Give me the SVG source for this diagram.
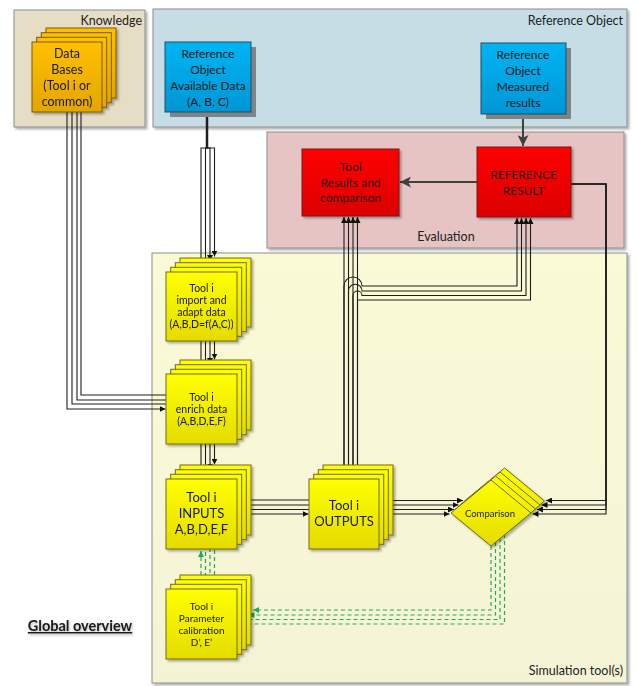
<svg xmlns="http://www.w3.org/2000/svg" width="637" height="686" viewBox="0 0 637 686">
<defs>
<linearGradient id="gy" x1="0" y1="0" x2="0" y2="1"><stop offset="0" stop-color="#ffff00"/><stop offset="1" stop-color="#e4dc00"/></linearGradient>
<linearGradient id="go" x1="0" y1="0" x2="0" y2="1"><stop offset="0" stop-color="#ffc000"/><stop offset="1" stop-color="#e3a600"/></linearGradient>
<linearGradient id="gb" x1="0" y1="0" x2="0" y2="1"><stop offset="0" stop-color="#00b4f2"/><stop offset="1" stop-color="#0096d6"/></linearGradient>
<linearGradient id="gr" x1="0" y1="0" x2="0" y2="1"><stop offset="0" stop-color="#ff0000"/><stop offset="1" stop-color="#dc0000"/></linearGradient>
<linearGradient id="gs" x1="0" y1="0" x2="0" y2="1"><stop offset="0" stop-color="#fafad6"/><stop offset="1" stop-color="#f5f3d6"/></linearGradient>
<filter id="sh" x="-10%" y="-10%" width="130%" height="130%"><feDropShadow dx="2" dy="2" stdDeviation="1" flood-color="#000" flood-opacity="0.3"/></filter>
<filter id="ts" x="-10%" y="-30%" width="130%" height="160%"><feDropShadow dx="1" dy="1.5" stdDeviation="0.8" flood-color="#000" flood-opacity="0.3"/></filter>
<marker id="a" viewBox="0 0 10 10" refX="10" refY="5" markerWidth="6" markerHeight="6" markerUnits="userSpaceOnUse" orient="auto"><path d="M0,0 L10,5 L0,10 z" fill="#111"/></marker>
<marker id="ag" viewBox="0 0 10 10" refX="10" refY="5" markerWidth="6" markerHeight="6" markerUnits="userSpaceOnUse" orient="auto"><path d="M0,0 L10,5 L0,10 z" fill="#1fae4f"/></marker>
<marker id="ab" viewBox="0 0 10 10" refX="10" refY="5" markerWidth="11" markerHeight="11" markerUnits="userSpaceOnUse" orient="auto"><path d="M0,0 L10,5 L0,10 L2.5,5 z" fill="#404040"/></marker>
</defs>
<style>
text{font-family:Lato,"Noto Sans","Liberation Sans",sans-serif;fill:#1a1a1a;text-anchor:middle}
.lbl{font-size:12.5px;fill:#222}
.cont{stroke:#8c8c8c;stroke-width:1}
.ys{fill:url(#gy);stroke:#6e6a22;stroke-width:1}
.os{fill:url(#go);stroke:#7a5a00;stroke-width:1}
.bl{fill:url(#gb);stroke:#1f4e66;stroke-width:1}
.rd{fill:url(#gr);stroke:#7a1010;stroke-width:1}
.c{fill:none;stroke:#1e1e1e;stroke-width:1.1}
.g{fill:none;stroke:#1fae4f;stroke-width:1.2;stroke-dasharray:4 3}
.thick{fill:none;stroke:#404040;stroke-width:2}
</style>

<g id="containers">
<g id="knowledge"><rect x="14" y="10" width="131" height="117" fill="#e6ddc5" class="cont" filter="url(#sh)"/><text x="142" y="25" class="lbl" style="text-anchor:end">Knowledge</text></g>
<g id="reference-object"><rect x="153" y="9" width="474" height="118" fill="#c6dde6" class="cont" filter="url(#sh)"/><text x="623" y="25" class="lbl" style="text-anchor:end">Reference Object</text></g>
<g id="evaluation"><rect x="267" y="132" width="357" height="116" fill="#e6c4c4" class="cont" filter="url(#sh)"/><text x="446" y="241" class="lbl">Evaluation</text></g>
<g id="simulation"><rect x="152" y="253" width="475" height="430" fill="url(#gs)" class="cont" filter="url(#sh)"/><text x="623" y="675" class="lbl" style="text-anchor:end">Simulation tool(s)</text></g>
</g>

<g id="connectors">
<path class="c" d="M207,112 V148 H201 V270" marker-end="url(#a)"/>
<path class="c" d="M207,112 V148 H205.5 V265.5" marker-end="url(#a)"/>
<path class="c" d="M207,112 V148 H210 V261" marker-end="url(#a)"/>
<path class="c" d="M207,112 V148 H214.5 V256.5" marker-end="url(#a)"/>
<path class="c" d="M207,112 V148" style="stroke-width:2.5"/>

<path class="c" d="M201,341 V373" marker-end="url(#a)"/>
<path class="c" d="M205.5,336 V368.5" marker-end="url(#a)"/>
<path class="c" d="M210,332 V364" marker-end="url(#a)"/>
<path class="c" d="M214.5,327 V359.5" marker-end="url(#a)"/>

<path class="c" d="M201,444 V478.5" marker-end="url(#a)"/>
<path class="c" d="M205.5,439 V474" marker-end="url(#a)"/>
<path class="c" d="M210,435 V469.5" marker-end="url(#a)"/>
<path class="c" d="M214.5,430 V464.5" marker-end="url(#a)"/>

<path class="c" d="M67,100 V409 H165.5" marker-end="url(#a)"/>
<path class="c" d="M72,100 V404 H172"/>
<path class="c" d="M77,100 V400 H177"/>
<path class="c" d="M81,100 V395 H182"/>

<path class="c" d="M237,514 H308.5" marker-end="url(#a)"/>
<path class="c" d="M241.7,509.5 H315"/>
<path class="c" d="M246.4,505 H320"/>
<path class="c" d="M251,500 H325"/>

<path class="c" d="M379,514 H449.5" marker-end="url(#a)"/>
<path class="c" d="M383.7,509.5 H454" marker-end="url(#a)"/>
<path class="c" d="M388.4,505 H458.5" marker-end="url(#a)"/>
<path class="c" d="M393,500.5 H463" marker-end="url(#a)"/>

<path class="c" d="M571,184 H606 V514 H532.5" marker-end="url(#a)"/>
<path class="c" d="M571,184 H606 V509.5 H537" marker-end="url(#a)"/>
<path class="c" d="M571,184 H606 V505 H541.5" marker-end="url(#a)"/>
<path class="c" d="M571,184 H606 V500.5 H546" marker-end="url(#a)"/>

<path class="c" d="M344,479 V217" marker-end="url(#a)"/>
<path class="c" d="M348.5,474 V217" marker-end="url(#a)"/>
<path class="c" d="M353,470 V217" marker-end="url(#a)"/>
<path class="c" d="M357.5,465 V217" marker-end="url(#a)"/>

<path class="c" d="M344,479 V286 A9,9 0 0 1 362,286 H517 V218" marker-end="url(#a)"/>
<path class="c" d="M348.5,474 V291 A6.75,6.75 0 0 1 362,291 H521.5 V218" marker-end="url(#a)"/>
<path class="c" d="M353,470 V295.5 A4.5,4.5 0 0 1 362,295.5 H526 V218" marker-end="url(#a)"/>
<path class="c" d="M357.5,465 V300 H530.5 V218" marker-end="url(#a)"/>

<path class="thick" d="M523,114 V146" marker-end="url(#ab)"/>
<path class="thick" d="M477,182 H400" marker-end="url(#ab)"/>

<path class="g" d="M491,546 V610 H253" marker-end="url(#ag)"/>
<path class="g" d="M495.5,542 V615 H248.5" marker-end="url(#ag)"/>
<path class="g" d="M500,538 V619.5 H244" marker-end="url(#ag)"/>
<path class="g" d="M504.5,534 V624 H239" marker-end="url(#ag)"/>

<path class="g" d="M201,589 V551" marker-end="url(#ag)"/>
<path class="g" d="M205.5,584 V546"/>
<path class="g" d="M210,580 V542"/>
<path class="g" d="M214.5,575 V538"/>
</g>

<g id="data-bases" filter="url(#sh)">
<rect class="os" x="46" y="28" width="70" height="70"/>
<rect class="os" x="41.3" y="32.7" width="70" height="70"/>
<rect class="os" x="36.7" y="37.3" width="70" height="70"/>
<rect class="os" x="32" y="42" width="70" height="70"/>
<text x="67" y="58" style="font-size:12.5px">Data</text>
<text x="67" y="74" style="font-size:12.5px">Bases</text>
<text x="67" y="90" style="font-size:12.5px">(Tool i or</text>
<text x="67" y="106" style="font-size:12.5px">common)</text>
</g>

<g id="ref-available">
<rect x="170" y="47" width="86" height="70" fill="#7f8487"/>
<rect class="bl" x="165" y="42" width="86" height="70"/>
<text x="208" y="58" style="font-size:12px">Reference</text>
<text x="208" y="74" style="font-size:12px">Object</text>
<text x="208" y="90" style="font-size:12px">Available Data</text>
<text x="208" y="106" style="font-size:12px">(A, B, C)</text>
</g>

<g id="ref-measured">
<rect x="486" y="48" width="85" height="71" fill="#7f8487"/>
<rect class="bl" x="481" y="43" width="85" height="71"/>
<text x="523" y="59" style="font-size:12px">Reference</text>
<text x="523" y="75" style="font-size:12px">Object</text>
<text x="523" y="91" style="font-size:12px">Measured</text>
<text x="523" y="107" style="font-size:12px">results</text>
</g>

<g id="tool-results" filter="url(#sh)">
<rect class="rd" x="302" y="149" width="97" height="67"/>
<text x="351" y="171" style="font-size:12px">Tool</text>
<text x="351" y="186.5" style="font-size:12px">Results and</text>
<text x="351" y="202" style="font-size:12px">comparison</text>
</g>

<g id="reference-result" filter="url(#sh)">
<rect class="rd" x="477" y="147" width="94" height="70"/>
<text x="524" y="179" style="font-size:12px">REFERENCE</text>
<text x="524" y="194.5" style="font-size:12px">RESULT</text>
</g>

<g id="import" filter="url(#sh)">
<rect class="ys" x="180" y="258" width="71" height="69"/>
<rect class="ys" x="175.3" y="262.7" width="71" height="69"/>
<rect class="ys" x="170.7" y="267.3" width="71" height="69"/>
<rect class="ys" x="166" y="272" width="71" height="69"/>
<text x="201.5" y="292" style="font-size:10.5px">Tool i</text>
<text x="201.5" y="304" style="font-size:10.5px">import and</text>
<text x="201.5" y="316" style="font-size:10.5px">adapt data</text>
<text x="201.5" y="328" style="font-size:10.5px">(A,B,D=f(A,C))</text>
</g>

<g id="enrich" filter="url(#sh)">
<rect class="ys" x="180" y="360" width="71" height="70"/>
<rect class="ys" x="175.3" y="364.7" width="71" height="70"/>
<rect class="ys" x="170.7" y="369.3" width="71" height="70"/>
<rect class="ys" x="166" y="374" width="71" height="70"/>
<text x="201.5" y="401" style="font-size:10.5px">Tool i</text>
<text x="201.5" y="413" style="font-size:10.5px">enrich data</text>
<text x="201.5" y="425" style="font-size:10.5px">(A,B,D,E,F)</text>
</g>

<g id="inputs" filter="url(#sh)">
<rect class="ys" x="180" y="465" width="71" height="70"/>
<rect class="ys" x="175.3" y="469.7" width="71" height="70"/>
<rect class="ys" x="170.7" y="474.3" width="71" height="70"/>
<rect class="ys" x="166" y="479" width="71" height="70"/>
<text x="201.5" y="502" style="font-size:13px">Tool i</text>
<text x="201.5" y="518" style="font-size:13px">INPUTS</text>
<text x="201.5" y="534" style="font-size:13px">A,B,D,E,F</text>
</g>

<g id="outputs" filter="url(#sh)">
<rect class="ys" x="323" y="465" width="70" height="70"/>
<rect class="ys" x="318.3" y="469.7" width="70" height="70"/>
<rect class="ys" x="313.7" y="474.3" width="70" height="70"/>
<rect class="ys" x="309" y="479" width="70" height="70"/>
<text x="344" y="510" style="font-size:13px">Tool i</text>
<text x="344" y="526" style="font-size:13px">OUTPUTS</text>
</g>

<g id="calibration" filter="url(#sh)">
<rect class="ys" x="180" y="575" width="71" height="70"/>
<rect class="ys" x="175.3" y="579.7" width="71" height="70"/>
<rect class="ys" x="170.7" y="584.3" width="71" height="70"/>
<rect class="ys" x="166" y="589" width="71" height="70"/>
<text x="201.5" y="610" style="font-size:10px">Tool i</text>
<text x="201.5" y="622" style="font-size:10px">Parameter</text>
<text x="201.5" y="634" style="font-size:10px">calibration</text>
<text x="201.5" y="646" style="font-size:10px">D’, E’</text>
</g>

<g id="comparison" filter="url(#sh)">
<polygon class="ys" points="464.5,501 504.5,468 544.5,501 504.5,534"/>
<polygon class="ys" points="460,505 500,472 540,505 500,538"/>
<polygon class="ys" points="455.5,509 495.5,476 535.5,509 495.5,542"/>
<polygon class="ys" points="451,513 491,480 531,513 491,546"/>
<text x="490" y="517" style="font-size:9.5px">Comparison</text>
</g>

<g id="title">
<text x="80" y="631" filter="url(#ts)" style="font-size:14.5px;font-weight:bold;text-decoration:underline">Global overview</text>
</g>
</svg>
